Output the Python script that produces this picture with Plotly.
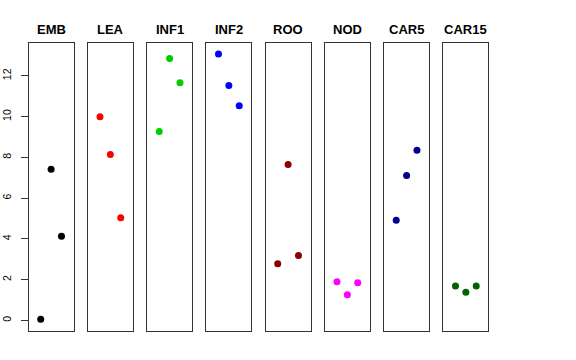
import plotly.graph_objects as go

categories = ["EMB", "LEA", "INF1", "INF2", "ROO", "NOD", "CAR5", "CAR15"]
colors = ["#000000", "#FF0000", "#00CD00", "#0000FF", "#8B0000", "#FF00FF", "#00008B", "#006400"]
replicates = [1, 2, 3]
values = {
    "EMB":   [0.05, 7.42, 4.13],
    "LEA":   [9.99, 8.14, 5.04],
    "INF1":  [9.27, 12.85, 11.66],
    "INF2":  [13.08, 11.53, 10.53],
    "ROO":   [2.78, 7.65, 3.18],
    "NOD":   [1.90, 1.26, 1.85],
    "CAR5":  [4.91, 7.11, 8.35],
    "CAR15": [1.69, 1.38, 1.69],
}
y_ticks = [0, 2, 4, 6, 8, 10, 12]

W, H = 576, 360
allv = [v for k in categories for v in values[k]]
lo, hi = min(allv), max(allv)
ext = 0.04 * (hi - lo)
yrange = [lo - ext - 0.05, hi + ext]
xrange = [-0.16, 4.16]

left0, step, pw = 28.7, 59.25, 44.8
ytop, ybot = 43.3, 331.0

fig = go.Figure()
layout = dict(
    width=W, height=H, margin=dict(l=0, r=0, t=0, b=0, autoexpand=False),
    paper_bgcolor="white", plot_bgcolor="white", showlegend=False,
    font=dict(family="Liberation Sans, Arial, sans-serif", color="black"),
)
annotations = []
for i, cat in enumerate(categories):
    n = "" if i == 0 else str(i + 1)
    x0 = left0 + step * i
    fig.add_trace(go.Scatter(
        x=replicates, y=values[cat], mode="markers",
        marker=dict(color=colors[i], size=7),
        xaxis="x" + n, yaxis="y" + n, hoverinfo="x+y",
    ))
    layout["xaxis" + n] = dict(
        domain=[x0 / W, (x0 + pw) / W], range=xrange, anchor="y" + n,
        showgrid=False, zeroline=False, showticklabels=False, ticks="",
        showline=True, mirror=True, linecolor="#333333", linewidth=1,
        automargin=False,
    )
    ya = dict(
        domain=[1 - ybot / H, 1 - ytop / H], range=yrange, anchor="x" + n,
        showgrid=False, zeroline=False, automargin=False,
        showline=True, mirror=True, linecolor="#333333", linewidth=1,
    )
    if i == 0:
        ya.update(ticks="outside", ticklen=7, tickcolor="#333333",
                  tickvals=y_ticks, ticktext=[str(t) for t in y_ticks],
                  tickangle=-90, ticklabelstandoff=6,
                  tickfont=dict(size=10.5, color="black"))
    else:
        ya.update(showticklabels=False, ticks="", matches="y")
    layout["yaxis" + n] = ya
    annotations.append(dict(
        x=(x0 + pw / 2) / W, y=1 - 29 / H, xref="paper", yref="paper",
        text="<b>" + cat + "</b>", showarrow=False,
        font=dict(size=13, color="black"), xanchor="center", yanchor="middle",
    ))
layout["annotations"] = annotations
fig.update_layout(**layout)
fig.write_html(
    "out.html",
    config={"displayModeBar": False},
    post_script="document.body.style.margin='0';document.body.style.padding='0';",
)
